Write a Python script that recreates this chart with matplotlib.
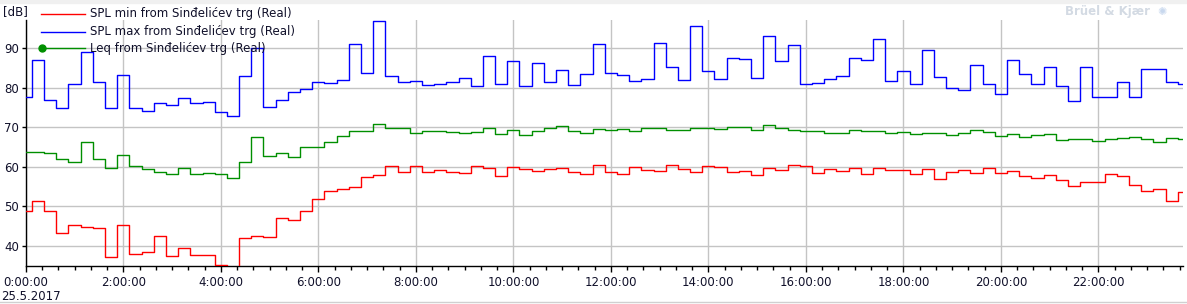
import matplotlib

matplotlib.use("Agg")
import matplotlib.pyplot as plt
import numpy as np
from matplotlib.lines import Line2D
from matplotlib.ticker import MultipleLocator, FixedLocator

W, H = 1187, 304

# 15-minute intervals over the day (hours)
HOURS = np.arange(96) * 0.25

SPL_MAX = [
    77.7, 87.2, 76.9, 74.9, 81.0, 89.0, 81.4, 74.9, 83.4, 74.9, 74.1, 76.2,
    75.6, 77.4, 76.2, 76.4, 73.8, 73.0, 83.0, 90.0, 75.1, 77.0, 79.1, 79.7,
    81.6, 81.3, 82.1, 91.2, 83.9, 97.0, 83.1, 81.6, 81.8, 80.8, 81.1, 81.6,
    82.6, 80.5, 88.0, 81.1, 86.9, 80.5, 86.4, 81.4, 84.6, 80.7, 83.5, 91.0,
    83.8, 83.3, 81.7, 82.2, 91.3, 85.3, 82.0, 95.7, 84.3, 82.2, 87.7, 87.4,
    82.5, 93.1, 86.9, 90.8, 81.0, 81.2, 82.2, 83.0, 87.7, 87.2, 92.3, 81.7,
    84.3, 81.0, 89.7, 82.8, 80.0, 79.5, 85.9, 81.0, 78.4, 87.2, 83.5, 81.0,
    85.3, 80.4, 76.6, 85.3, 77.8, 77.8, 81.5, 77.8, 84.8, 84.8, 81.5, 81.0,
]
LEQ = [
    63.8, 63.7, 63.5, 62.0, 61.25, 66.25, 62.0, 59.75, 63.0, 60.25, 59.5, 58.75,
    58.25, 59.75, 58.25, 58.5, 58.25, 57.25, 61.25, 67.5, 62.8, 63.5, 62.5, 65.0,
    65.0, 66.25, 67.75, 69.1, 69.1, 71.0, 69.75, 69.75, 68.5, 69.0, 69.0, 68.75,
    68.5, 68.75, 69.75, 68.25, 69.25, 68.0, 69.0, 69.75, 70.25, 69.0, 68.5, 69.5,
    69.25, 69.5, 69.0, 69.75, 69.75, 69.25, 69.25, 69.75, 69.75, 69.5, 70.0, 70.0,
    69.25, 70.75, 69.75, 69.25, 69.0, 69.0, 68.5, 68.5, 69.25, 69.0, 69.0, 68.5,
    68.75, 68.25, 68.5, 68.5, 68.0, 68.5, 69.25, 68.75, 67.75, 68.25, 67.5, 68.0,
    68.25, 66.75, 67.0, 67.0, 66.5, 67.0, 67.25, 67.5, 67.0, 66.25, 67.25, 67.0,
]
SPL_MIN = [
    48.75, 51.5, 48.75, 43.3, 45.25, 44.75, 44.5, 37.2, 45.25, 38.0, 38.5, 42.5,
    37.5, 39.5, 37.7, 37.7, 35.1, 34.0, 42.0, 42.5, 42.3, 47.0, 46.5, 48.75,
    52.0, 54.0, 54.5, 55.0, 57.5, 58.0, 60.25, 58.75, 60.25, 58.75, 59.25, 58.75,
    58.5, 60.25, 59.75, 57.75, 60.0, 59.5, 59.0, 59.5, 59.75, 58.75, 58.25, 60.5,
    58.75, 58.25, 60.0, 59.25, 59.0, 60.5, 59.5, 58.75, 60.25, 60.0, 58.75, 59.0,
    58.0, 59.75, 59.25, 60.5, 60.25, 58.5, 59.5, 59.0, 59.75, 58.25, 59.75, 59.25,
    59.25, 58.25, 59.5, 57.0, 58.75, 59.25, 58.5, 59.75, 58.5, 59.0, 57.75, 57.25,
    58.0, 56.75, 55.25, 56.25, 56.25, 58.25, 57.75, 55.5, 54.0, 54.5, 51.5, 53.75,
]

SERIES_LABELS = [
    "SPL min from Sinđelićev trg (Real)",
    "SPL max from Sinđelićev trg (Real)",
    "Leq from Sinđelićev trg (Real)",
]
XTICK_HOURS = list(range(0, 24, 2))
XTICK_LABELS = [f"{h}:00:00" for h in XTICK_HOURS]
YTICKS = [40, 50, 60, 70, 80, 90]

RED = "#ff0000"
BLUE = "#0000ff"
GREEN = "#008f00"
GRID = "#c4c4c4"
TXT = "#10102a"


def px(x, y):
    """pixel (from top-left) -> figure fraction"""
    return x / W, 1 - y / H


fig = plt.figure(figsize=(W / 100, H / 100), dpi=100, facecolor="white")
l, t = 25.8, 20
r, b = 1183.3, 266
ax = fig.add_axes([l / W, 1 - b / H, (r - l) / W, (b - t) / H])
ax.set_facecolor("white")

lw = 1.0
ax.step(HOURS, SPL_MIN, where="mid", color=RED, lw=lw, zorder=3)
ax.step(HOURS, SPL_MAX, where="mid", color=BLUE, lw=lw, zorder=3)
ax.step(HOURS, LEQ, where="mid", color=GREEN, lw=lw, zorder=3)

ax.set_xlim(0, 23.74)
ax.set_ylim(34.94, 97.2)

ax.xaxis.set_major_locator(FixedLocator(XTICK_HOURS))
ax.set_xticks(XTICK_HOURS)
ax.set_xticklabels(XTICK_LABELS)
ax.xaxis.set_minor_locator(MultipleLocator(1 / 3))
ax.set_yticks(YTICKS)
ax.grid(True, which="major", color=GRID, lw=1.0, zorder=1)
ax.tick_params(axis="x", which="major", direction="out", length=4, width=1,
               labelsize=8.5, labelcolor=TXT, pad=3)
ax.tick_params(axis="x", which="minor", direction="out", length=3, width=1)
ax.tick_params(axis="y", direction="out", length=3, width=1,
               labelsize=8.5, labelcolor=TXT, pad=2)
for side in ("top", "right"):
    ax.spines[side].set_visible(False)
for side in ("left", "bottom"):
    ax.spines[side].set_color("black")
    ax.spines[side].set_linewidth(1.0)

# unit label and date
fig.text(*px(3, 12), "[dB]", fontsize=8.5, color=TXT, va="center", ha="left")
fig.text(*px(1, 296), "25.5.2017", fontsize=8.5, color=TXT, va="center", ha="left")

# legend drawn by hand (no frame, overlaps plot)
leg_rows = [14, 31.5, 48.3]
for y, col, lab in zip(leg_rows, [RED, BLUE, GREEN], SERIES_LABELS):
    x0, y0 = px(41, y)
    x1, _ = px(85, y)
    fig.add_artist(Line2D([x0, x1], [y0, y0], color=col, lw=1.0,
                          transform=fig.transFigure, zorder=5))
    fig.text(*px(90, y), lab, fontsize=8.5, color=TXT, va="center",
             ha="left", zorder=5)
mx, my = px(42.3, 48.3)
fig.add_artist(Line2D([mx], [my], color=GREEN, marker="o", ms=5,
                      transform=fig.transFigure, zorder=6))

# logo
fig.text(*px(1150, 12), "Brüel & Kjær", fontsize=8.5, weight="bold",
         color="#d3dae3", ha="right", va="center")
fig.text(*px(1162, 12), "✺", fontsize=8, color="#c8d8ee", ha="center",
         va="center")

# light frame lines at top and bottom of the window
fig.add_artist(plt.Rectangle((0, 1 - 3 / H), 1, 3 / H, color="#f0f0f0",
                             transform=fig.transFigure, zorder=0))
fig.add_artist(Line2D([0, 1], [1 - 302 / H] * 2, color="#d0d0d0", lw=1,
                      transform=fig.transFigure))

fig.savefig("out.png", dpi=100, facecolor="white")
